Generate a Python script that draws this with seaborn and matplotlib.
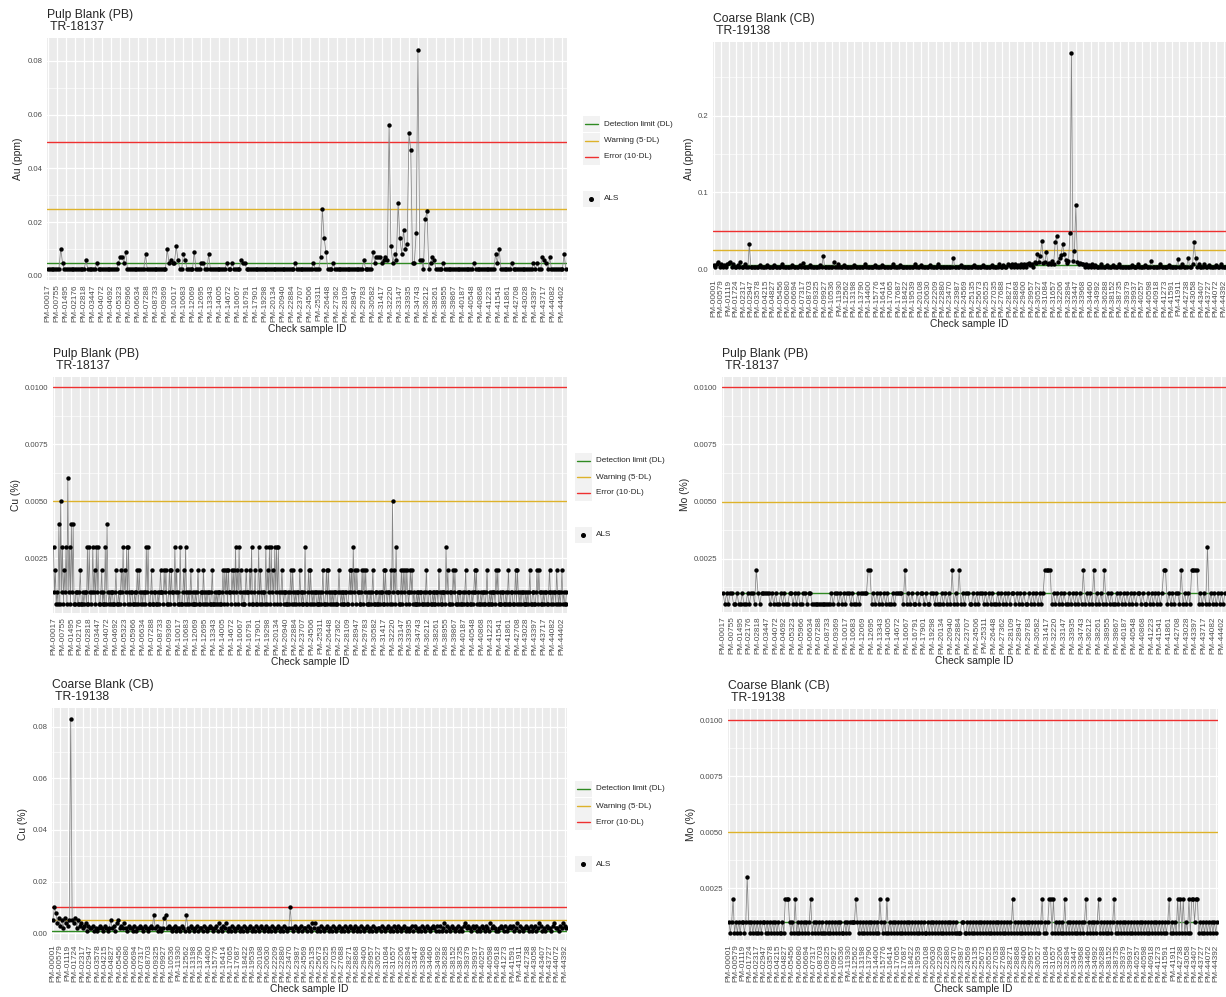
import numpy as np
import pandas as pd
import matplotlib
matplotlib.use('Agg')
import matplotlib.pyplot as plt
import seaborn as sns
from matplotlib.patches import Rectangle
from matplotlib.lines import Line2D
from matplotlib.ticker import FixedLocator, NullLocator

sns.set_style('darkgrid', {'axes.facecolor': '#EBEBEB', 'grid.color': 'white'})
plt.rcParams['font.family'] = ['Liberation Sans', 'DejaVu Sans']

W, H = 1226, 997

# --- labelled check samples ---
pb_ids = ['PM-00017', 'PM-00755', 'PM-01495', 'PM-02176', 'PM-02818', 'PM-03447', 'PM-04072',
          'PM-04692', 'PM-05323', 'PM-05966', 'PM-06634', 'PM-07288', 'PM-08733', 'PM-09369',
          'PM-10017', 'PM-10683', 'PM-12069', 'PM-12695', 'PM-13343', 'PM-14005', 'PM-14672',
          'PM-16067', 'PM-16791', 'PM-17901', 'PM-19298', 'PM-20134', 'PM-20940', 'PM-22884',
          'PM-23707', 'PM-24506', 'PM-25311', 'PM-26448', 'PM-27362', 'PM-28109', 'PM-28947',
          'PM-29783', 'PM-30582', 'PM-31417', 'PM-32220', 'PM-33147', 'PM-33935', 'PM-34743',
          'PM-36212', 'PM-38261', 'PM-38955', 'PM-39867', 'PM-40187', 'PM-40548', 'PM-40868',
          'PM-41223', 'PM-41541', 'PM-41861', 'PM-42708', 'PM-43028', 'PM-43397', 'PM-43717',
          'PM-44082', 'PM-44402']
cb_ids = ['PM-00001', 'PM-00579', 'PM-01119', 'PM-01724', 'PM-02317', 'PM-02947', 'PM-03578',
          'PM-04215', 'PM-04827', 'PM-05456', 'PM-06080', 'PM-06694', 'PM-07317', 'PM-08703',
          'PM-09325', 'PM-09927', 'PM-10536', 'PM-11930', 'PM-12562', 'PM-13198', 'PM-13790',
          'PM-14400', 'PM-15776', 'PM-16414', 'PM-17065', 'PM-17687', 'PM-18422', 'PM-19539',
          'PM-20108', 'PM-20630', 'PM-22209', 'PM-22880', 'PM-23470', 'PM-23987', 'PM-24569',
          'PM-25135', 'PM-25673', 'PM-26525', 'PM-27035', 'PM-27688', 'PM-28271', 'PM-28868',
          'PM-29400', 'PM-29957', 'PM-30527', 'PM-31084', 'PM-31657', 'PM-32206', 'PM-32894',
          'PM-33447', 'PM-33968', 'PM-34460', 'PM-34992', 'PM-36288', 'PM-38152', 'PM-38735',
          'PM-39379', 'PM-39937', 'PM-40257', 'PM-40598', 'PM-40918', 'PM-41273', 'PM-41591',
          'PM-41911', 'PM-42738', 'PM-43058', 'PM-43407', 'PM-43727', 'PM-44072', 'PM-44392']

# --- values, one character per sample ---
# '.' = below detection (half DL), other chars = base-36 value in units,
# capitals = large values listed in the dicts below
# Au in ppb (x0.001 ppm), Cu / Mo in 0.001 %
au_pb = (".......a5. .......... .6.....5.. .........5 7759...... ....8..... ......a565 "
         "5b6..86... .9...55..8 .........5 ..5....655 .......... .......... .......5.. "
         ".......5.. .7pe9...5. .......... .....6.... 957775676Y b586re8hac XW55gZ66.l "
         "o.576....5 .......... ......5... ........85 a......5.. .........5 .5..765.7. "
         "......8.")
au_cb = ("5.79.6.5.7 89.6..5.9. .6..x..... .5....5... .5....7... ...5....5. 8....5.... "
         "..5.h..... .9..6...5. .....5.... ..6......5 ....5..... .7....5... ......6... "
         "5.....5... ..6....... ..f....5.. ......5... ..5.....5. ...6..5..6 5.6.7.5.6. "
         "7.6857.98j 9hS89m786b 7zQ9fixkc8 aWUboV9786 7.6.5.7.5. ..6...5... 5...6..... "
         "...5...6.. ..5...b... ..6.....5. ....d..6.. .f..7ze.6. ..7..5.... 5..7...")
au_big = {'S': 37, 'Q': 43, 'W': 47, 'X': 53, 'Y': 56, 'V': 84, 'Z': 84, 'U': 282}

# Cu pulp blank is denser: 10 samples per labelled interval
cu_pb = ("312.1.4.513.213.613. 414..11..12..1.11.3. 31.1312.313..12.1.3. 41.1.11..12..1.1213. "
         "213.31.11..1.12.21.1 .11.313..12..11..1.1 211.212..12.211.312. 1.3..12.31.1.12.1..1 "
         ".12..11.21.1.11..12. .1.1.11..12.212.211. 212.312.312.1..1211. 213..12..13.21.11.3. "
         "213.312.313.31.121.1 1..1.12.21.1.11.21.1 .13..12.21.1.11..1.1 .12..12.21.1.1.11..1 "
         "21.1.1.11..1212.312. 211..12.212.1..1.12. .11..1.11.2.21.11.2. 512.311..12.212.21.1 "
         "212.1..1.1.11..1.12. .11..1.1.11.21.1.11. 312..11.212..1.11..1 .12..11..1.1212.1..1 "
         ".11..12..1.1.11.212. .1.11..1.12..11..12. 21.1.11..1.1.12..11. .12.211..1.11..121.1 "
         ".11.21.1.12.1..1")
mo_pb = ("1.1.11..1. .1..1.11.2 1.11111.1. 1..1.1..11 .1.1..11.1 1......... ..1.11.1.1 "
         ".11.1..1.1 11122.1.1. 1.1.1..1.1 111.2.1.1. .1.11.1..1 1.1..1.1.1 .2.1.2.1.1 "
         "1..1.1.11. 1.1.1..1.1 .1.1.11.1. 1.1..1.1.1 .1.12222.1 .1.1.1..1. 1.1.1.2.1. "
         "1.2.1.1.2. 1.1..1.1.1 .1.1.1.11. 1..1.1.1.1 .122.1.1.1 1.2.1.1.22 22.1.1.3.1 "
         ".1.1.1.1")
cu_cb = ("5a84635264 35Z5462534 2341322312 1232132125 2314523242 1322131223 2132123272 "
         "3121267232 1231221321 7213212312 2132123212 3142132412 1321231213 2123121321 "
         "3212312132 1231213212 a213212312 2132142412 1321231213 2123121321 3212312132 "
         "1231213212 2132123121 3213212312 1231321213 2132123213 1312413213 2123121342 "
         "3213231213 2132142321 1232131232 3124132123 2131231243 1213221342 2132432")
cu_big = {'Z': 83}
mo_cb = ("1.12.1.1.1 1.131.1.1. 1.1.11.1.1 .1.1.1..1. 2221.1.2.1 .1.1.1.12. 1.1.1.1..1 "
         ".1.1.1.1.1 ..1.1.1111 21.1.1.1.1 .1.1.1.21. 1.2.1.1.1. 1.1.1.1.1. 1.1.1.1.1. "
         ".1.1.1.1.1 .1.1.1.1.1 .1...11..1 .1.1.1.1.1 .1.1.1.1.1 .1.1.1.1.1 .2.1.1.1.1 "
         ".1.1.1.1.1 .12.1.122. 2.1.1.1.2. 1.1.1.1.1. 1.12.1.1.1 .12.1.1.1. 1.12.1.1.1 "
         ".1.1.1.1.1 .1.1.1.1.1 .1.1.1.1.1 .12.1.1.2. 2.2.1.2.22 122.1.1.1. 1.1.1.1")

legend_labels = ['Detection limit (DL)', 'Warning (5\u00b7DL)', 'Error (10\u00b7DL)']
line_colors = ['#2F8A22', '#DDB22A', '#EE3030']


def decode(code, unit, below, big=None):
    big = big or {}
    vals = []
    for c in code.replace(' ', ''):
        if c == '.':
            vals.append(below)
        elif c in big:
            vals.append(big[c] * unit)
        else:
            vals.append(int(c, 36) * unit)
    return np.array(vals)


small_ticks = [0.0025, 0.0050, 0.0075, 0.0100]
small_minor = [0.00125, 0.00375, 0.00625, 0.00875]

panels = [
    dict(vals=decode(au_pb, 0.001, 0.0025, au_big), ids=pb_ids, step=5, box=(47, 38, 567, 280),
         ylim=(-0.0015, 0.0885), ticks=[0, .02, .04, .06, .08], minor=[.01, .03, .05, .07],
         fmt='%.2f', ylab='Au (ppm)', title='Pulp Blank (PB)\n TR-18137', lims=(0.005, 0.025, 0.05)),
    dict(vals=decode(au_cb, 0.001, 0.0025, au_big), ids=cb_ids, step=5, box=(713, 42, 1226, 275),
         ylim=(-0.0078, 0.296), ticks=[0, .1, .2], minor=[.05, .15, .25],
         fmt='%.1f', ylab='Au (ppm)', title='Coarse Blank (CB)\n TR-19138', lims=(0.005, 0.025, 0.05)),
    dict(vals=decode(cu_pb, 0.001, 0.0005), ids=pb_ids, step=10, box=(53, 377, 567, 613),
         ylim=(0.0001, 0.01045), ticks=small_ticks, minor=small_minor,
         fmt='%.4f', ylab='Cu (%)', title='Pulp Blank (PB)\n TR-18137', lims=(0.001, 0.005, 0.01)),
    dict(vals=decode(mo_pb, 0.001, 0.0005), ids=pb_ids, step=5, box=(722, 377, 1226, 612),
         ylim=(0.00017, 0.01045), ticks=small_ticks, minor=small_minor,
         fmt='%.4f', ylab='Mo (%)', title='Pulp Blank (PB)\n TR-18137', lims=(0.001, 0.005, 0.01)),
    dict(vals=decode(cu_cb, 0.001, 0.0005, cu_big), ids=cb_ids, step=5, box=(52, 708, 567, 940),
         ylim=(-0.0026, 0.0872), ticks=[0, .02, .04, .06, .08], minor=[.01, .03, .05, .07],
         fmt='%.2f', ylab='Cu (%)', title='Coarse Blank (CB)\n TR-19138', lims=(0.001, 0.005, 0.01)),
    dict(vals=decode(mo_cb, 0.001, 0.0005), ids=cb_ids, step=5, box=(728, 709, 1218, 940),
         ylim=(0.00018, 0.0105), ticks=small_ticks, minor=small_minor,
         fmt='%.4f', ylab='Mo (%)', title='Coarse Blank (CB)\n TR-19138', lims=(0.001, 0.005, 0.01)),
]

fig = plt.figure(figsize=(W / 100, H / 100), dpi=100)

for p in panels:
    l, t, r, b = p['box']
    ax = fig.add_axes([l / W, 1 - b / H, (r - l) / W, (b - t) / H])
    n = len(p['vals'])
    df = pd.DataFrame({'idx': np.arange(n), 'value': p['vals']})

    for lim, col in zip(p['lims'], line_colors):
        ax.axhline(lim, color=col, lw=1.0, zorder=1.5)
    sns.lineplot(data=df, x='idx', y='value', ax=ax, color='#858585', lw=0.55,
                 errorbar=None, zorder=2)
    sns.scatterplot(data=df, x='idx', y='value', ax=ax, color='black', s=10,
                    linewidth=0, zorder=3)

    ax.set_xlim(-0.6, n - 0.4)
    ax.set_ylim(*p['ylim'])
    ax.set_xticks(np.arange(0, p['step'] * len(p['ids']), p['step']))
    ax.set_xticklabels(p['ids'], rotation=90)
    ax.xaxis.set_minor_locator(NullLocator())
    ax.set_yticks(p['ticks'])
    ax.set_yticklabels([p['fmt'] % v for v in p['ticks']])
    ax.yaxis.set_minor_locator(FixedLocator(p['minor']))
    ax.grid(which='major', color='white', lw=0.9)
    ax.grid(which='minor', axis='y', color='white', lw=0.45)
    ax.tick_params(which='major', length=2.2, width=0.6, color='#333333', pad=1,
                   labelcolor='#4D4D4D')
    ax.tick_params(axis='x', labelsize=5.9)
    ax.tick_params(axis='y', labelsize=5.6)
    ax.tick_params(which='minor', length=0)
    for s in ax.spines.values():
        s.set_visible(False)
    ax.set_xlabel('Check sample ID', fontsize=7.4, labelpad=1)
    ax.set_ylabel(p['ylab'], fontsize=7.4, labelpad=3)
    ax.annotate(p['title'], xy=(0, 1), xycoords='axes fraction', xytext=(0, 3.5),
                textcoords='offset points', ha='left', va='bottom', fontsize=8.7,
                linespacing=1.05)


def draw_legend(key_x, text_x, ys, als_y):
    for y, lab, col in zip(ys, legend_labels, line_colors):
        fig.add_artist(Rectangle((key_x / W, 1 - (y + 8.3) / H), 16.5 / W, 16.6 / H,
                                 transform=fig.transFigure, facecolor='#F2F2F2', edgecolor='none'))
        fig.add_artist(Line2D([(key_x + 2) / W, (key_x + 14.5) / W], [1 - y / H] * 2,
                              transform=fig.transFigure, color=col, lw=1.0))
        fig.text(text_x / W, 1 - y / H, lab, ha='left', va='center', fontsize=5.9)
    fig.add_artist(Rectangle((key_x / W, 1 - (als_y + 8.3) / H), 16.5 / W, 16.6 / H,
                             transform=fig.transFigure, facecolor='#F2F2F2', edgecolor='none'))
    fig.add_artist(Line2D([(key_x + 8.25) / W], [1 - als_y / H], transform=fig.transFigure,
                          marker='o', color='black', markersize=2.6, lw=0))
    fig.text(text_x / W, 1 - als_y / H, 'ALS', ha='left', va='center', fontsize=5.9)


draw_legend(583, 604, [124, 141, 157], 199)
draw_legend(575, 596, [461, 477, 493], 535)
draw_legend(575, 596, [789, 806, 822], 864)

fig.savefig('out.png', dpi=100)
